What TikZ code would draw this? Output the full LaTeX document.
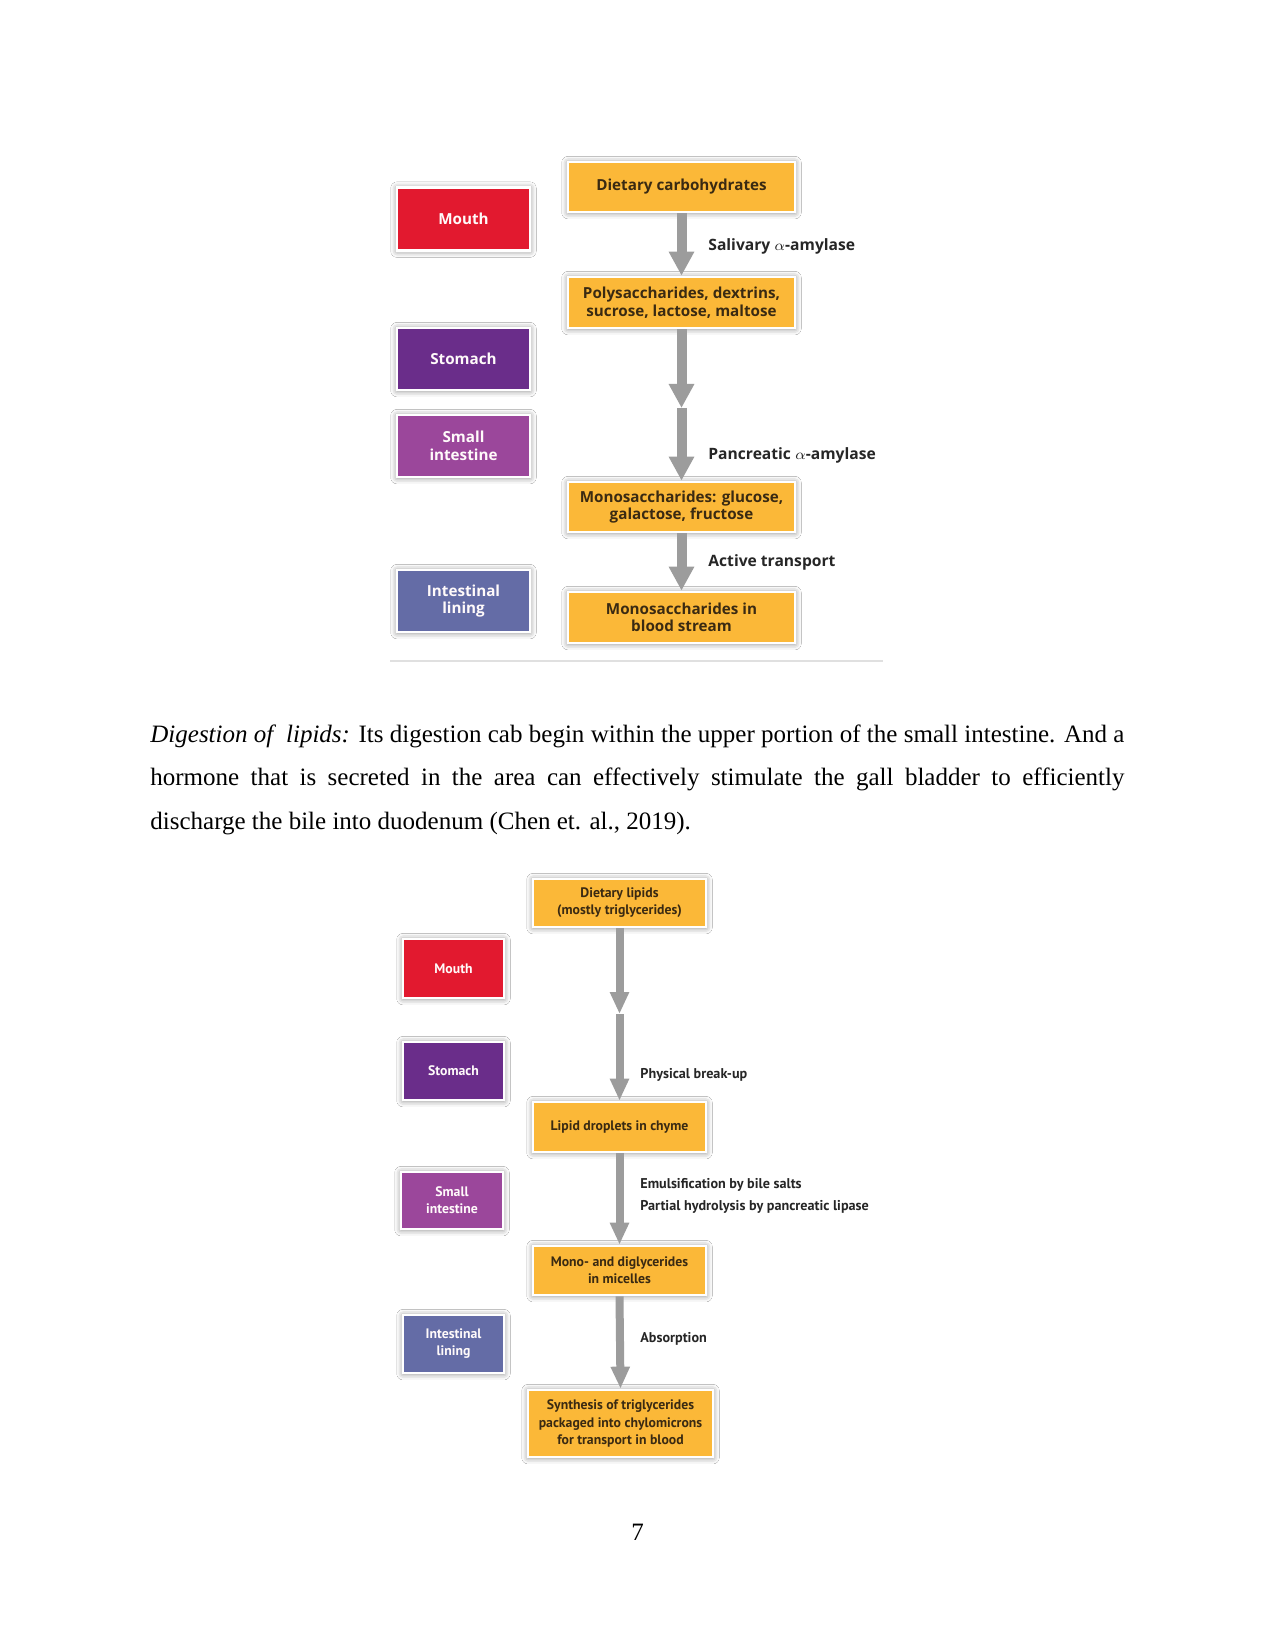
\documentclass[tikz,border=0pt]{standalone}
\usepackage{fontspec}
\setmainfont{Liberation Serif}
\newfontfamily\topf{Open Sans}
\newfontfamily\botf{PT Sans}
\usetikzlibrary{arrows.meta,shadows.blur}
\definecolor{orangebox}{HTML}{FBB838}
\definecolor{boxtext}{HTML}{3A2A12}
\definecolor{mouthred}{HTML}{E2192F}
\definecolor{stomachpurple}{HTML}{6A2D8A}
\definecolor{smallmag}{HTML}{9B479B}
\definecolor{liningblue}{HTML}{646CA6}
\definecolor{arrowgray}{HTML}{9C9C9C}
\tikzset{
  sz/.style 2 args={minimum width={#1*0.48pt}, minimum height={#2*0.48pt}},
  box/.style={draw=white, line width=1.3pt, inner sep=1pt, align=center,
    blur shadow={shadow xshift=0pt, shadow yshift=-0.3pt, shadow blur radius=3pt, shadow opacity=50}},
  tbox/.style={box, fill=orangebox, text=boxtext, font=\topf\bfseries\fontsize{7.3}{8.4}\selectfont},
  torg/.style={box, text=white!92!pink, font=\topf\bfseries\fontsize{7.3}{8.4}\selectfont},
  bbox/.style={box, fill=orangebox, text=boxtext, font=\botf\bfseries\fontsize{6.6}{8.2}\selectfont},
  borg/.style={box, text=white!92!pink, font=\botf\bfseries\fontsize{6.6}{8.2}\selectfont},
  tlabel/.style={anchor=west, inner sep=0pt, text=black!85, font=\topf\bfseries\fontsize{7.5}{8.4}\selectfont},
  blabel/.style={anchor=west, inner sep=0pt, text=black!85, font=\botf\bfseries\fontsize{6.8}{8.2}\selectfont},
  tflow/.style={draw=arrowgray, line width={10*0.48pt}, -{Triangle[width={24*0.48pt}, length={24*0.48pt}]}},
  bflow/.style={draw=arrowgray, line width={8*0.48pt}, -{Triangle[width={18*0.48pt}, length={22*0.48pt}]}},
  para/.style={anchor=base west, inner sep=0pt, font=\fontsize{12}{14}\selectfont}
}
\begin{document}
\begin{tikzpicture}[x=0.48pt, y=-0.48pt]
\useasboundingbox[fill=white] (0,0) rectangle (1275,1650);

% ---------- top diagram ----------
\node[torg, fill=mouthred, sz={133}{63}] (tMouth) at (463.5,219) {Mouth};
\node[torg, fill=stomachpurple, sz={133}{62}] (tStom) at (463.5,359) {Stomach};
\node[torg, fill=smallmag, sz={133}{62}] (tSmall) at (463.5,446) {Small\\intestine};
\node[torg, fill=liningblue, sz={133}{62}] (tLining) at (463.5,601) {Intestinal\\lining};

\node[tbox, sz={227}{50}] (tDiet) at (681.5,187) {Dietary carbohydrates};
\node[tbox, sz={227}{51}] (tPoly) at (681.5,302.5) {Polysaccharides, dextrins,\\sucrose, lactose, maltose};
\node[tbox, sz={227}{50}] (tMono) at (681.5,507) {Monosaccharides: glucose,\\galactose, fructose};
\node[tbox, sz={227}{51}] (tBlood) at (681.5,617.5) {Monosaccharides in\\blood stream};

\coordinate (tMid) at (681.5,408);
\draw[tflow] (tDiet.south) -- (tPoly.north);
\draw[tflow] (tPoly.south) -- (tMid);
\draw[tflow] (tMid) -- (tMono.north);
\draw[tflow] (tMono.south) -- (tBlood.north);

\node[tlabel] (tSal) at (708,246) {Salivary $\alpha$-amylase};
\node[tlabel] (tPan) at (708,455) {Pancreatic $\alpha$-amylase};
\node[tlabel] (tAct) at (708,562) {Active transport};

\coordinate (rA) at (390,661);
\coordinate (rB) at (883,661);
\draw[black!12, line width=0.6pt] (rA) -- (rB);

% ---------- paragraph ----------
\node[para] (p1) at (150,742) {\makebox[974\dimexpr 0.48pt\relax][s]{\textit{Digestion of\ \ lipids:} Its digestion cab begin within the upper portion of the small intestine. And a}};
\node[para] (p2) at (150,785.5) {\makebox[974\dimexpr 0.48pt\relax][s]{hormone that is secreted in the area can effectively stimulate the gall bladder to efficiently}};
\node[para] (p3) at (150,829) {discharge the bile into duodenum (Chen et. al., 2019).};

% ---------- bottom diagram ----------
\node[borg, fill=mouthred, sz={101}{59}] (bMouth) at (453.5,968.5) {Mouth};
\node[borg, fill=stomachpurple, sz={101}{58}] (bStom) at (453.5,1071) {Stomach};
\node[borg, fill=smallmag, sz={102}{57}] (bSmall) at (452,1200.5) {Small\\intestine};
\node[borg, fill=liningblue, sz={101}{58}] (bLining) at (453.5,1344) {Intestinal\\lining};

\node[bbox, sz={173}{48}] (bDiet) at (619.5,903) {Dietary lipids\\(mostly triglycerides)};
\node[bbox, sz={173}{50}] (bLipid) at (619.5,1127) {Lipid droplets in chyme};
\node[bbox, sz={173}{49}] (bMono) at (619.5,1270.5) {Mono- and diglycerides\\in micelles};
\node[bbox, sz={185}{67}] (bSynth) at (620.5,1423.5) {Synthesis of triglycerides\\packaged into chylomicrons\\for transport in blood};

\coordinate (bMid) at (619.5,1014);
\draw[bflow] (bDiet.south) -- (bMid);
\draw[bflow] (bMid) -- (bLipid.north);
\draw[bflow] (bLipid.south) -- (bMono.north);
\draw[bflow] (bMono.south) -- (bSynth.north);

\node[blabel] (bPhys) at (640,1075) {Physical break-up};
\node[blabel] (bEmul) at (640,1185) {Emulsification by bile salts};
\node[blabel] (bPart) at (640,1207) {Partial hydrolysis by pancreatic lipase};
\node[blabel] (bAbs) at (640,1339) {Absorption};

% ---------- page number ----------
\node[para, anchor=base] (pnum) at (637.5,1540) {7};
\end{tikzpicture}
\end{document}
